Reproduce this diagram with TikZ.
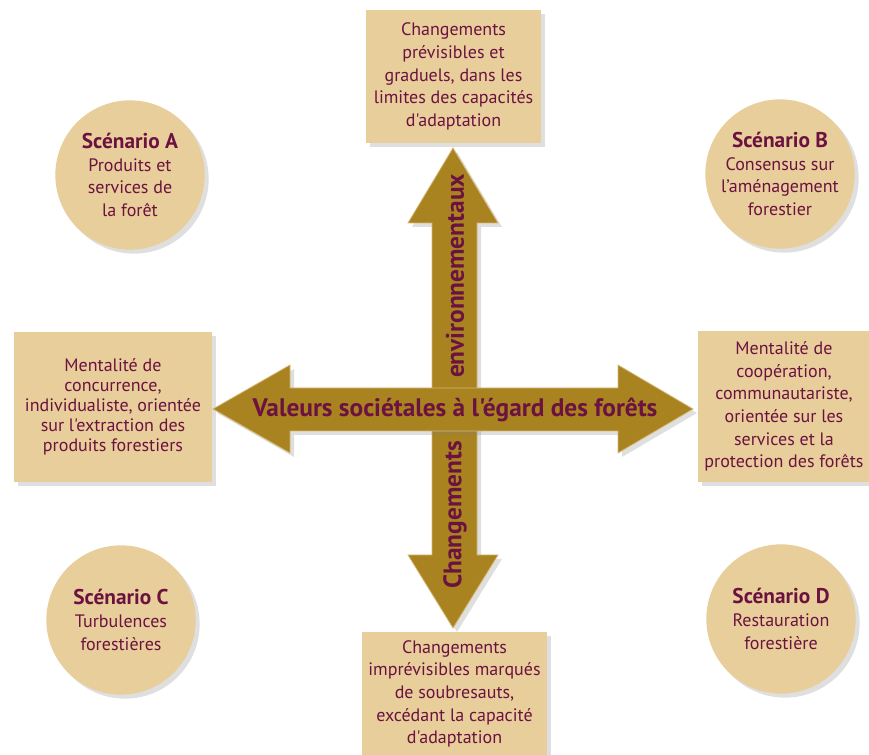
\documentclass[tikz,border=0pt]{standalone}
\usepackage{fontspec}
\setmainfont{PT Sans}[Ligatures=TeXOff]
\usetikzlibrary{shadows}

\definecolor{sable}{HTML}{E8CE9B}
\definecolor{ocre}{HTML}{A9831F}
\definecolor{bordeaux}{HTML}{6C1240}

\tikzset{
	ombre/.style={drop shadow={opacity=0.25, shadow xshift=3pt, shadow yshift=-3pt}},
	cadre/.style={rectangle, fill=sable, ombre, text=bordeaux, align=center, inner sep=0pt,
			font=\fontsize{13.5}{17}\selectfont},
	scenario/.style={circle, fill=sable, ombre, text=bordeaux, align=center, inner sep=0pt,
			minimum size=112pt, font=\fontsize{13.5}{17}\selectfont},
	fleche/.style={fill=ocre, draw=sable!70!ocre, line width=0.6pt, ombre},
	titre/.style={font=\fontsize{19}{20}\selectfont\bfseries, text=bordeaux}
}
\newcommand{\scen}[1]{{\fontsize{16}{17}\selectfont\bfseries Scénario #1}}

\begin{document}
\begin{tikzpicture}[x=0.75pt, y=-0.75pt]
	\useasboundingbox (0,0) rectangle (869,755);

	% scénarios
	\node[scenario] (scenA) at (130,175) {\scen{A}\\Produits et\\services de\\la forêt};
	\node[scenario] (scenB) at (780,174) {\scen{B}\\Consensus sur\\l’aménagement\\forestier};
	\node[scenario] (scenC) at (121,620) {\scen{C}\\Turbulences\\forestières};
	\node[scenario] (scenD) at (781,619) {\scen{D}\\Restauration\\forestière};

	% cadres
	\node[cadre, minimum width=131pt, minimum height=100pt] (haut) at (453.5,76.5)
		{Changements\\prévisibles et\\graduels, dans les\\limites des capacités\\d'adaptation};
	\node[cadre, minimum width=139pt, minimum height=93pt] (bas) at (454.5,694)
		{Changements\\imprévisibles marqués\\de soubresauts,\\excédant la capacité\\d'adaptation};
	\node[cadre, minimum width=148pt, minimum height=112.5pt,
		font=\fontsize{13.5}{15}\selectfont] (gauche) at (113,407)
		{Mentalité de\\concurrence,\\individualiste, orientée\\sur l'extraction des\\produits forestiers};
	\node[cadre, minimum width=129pt, minimum height=113pt] (droite) at (784,406.5)
		{Mentalité de\\coopération,\\communautariste,\\orientée sur les\\services et la\\protection des forêts};

	% flèche verticale
	\draw[fleche] (453,148) -- (498,223) -- (477,223) -- (477,555) -- (498,555) -- (453,628)
		-- (408,555) -- (432,555) -- (432,223) -- (408,223) -- cycle;
	\node[titre, rotate=90] (env) at (455,276) {environnementaux};
	\node[titre, rotate=90] (chg) at (455,515) {Changements};

	% flèche horizontale
	\draw[fleche] (213,409) -- (290,365) -- (290,388) -- (618,388) -- (618,365) -- (693,409)
		-- (618,453) -- (618,431) -- (290,431) -- (290,453) -- cycle;
	\node[titre] (valeurs) at (455,410) {Valeurs sociétales à l'égard des forêts};
\end{tikzpicture}
\end{document}
